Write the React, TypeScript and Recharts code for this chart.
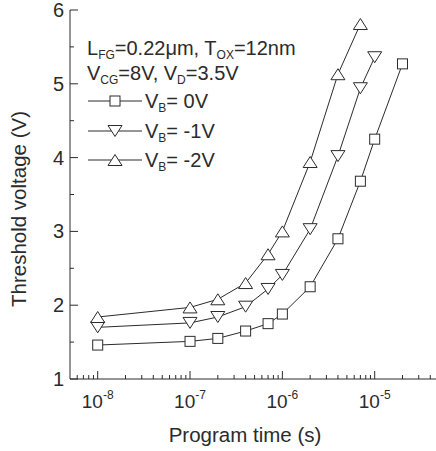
import { LineChart, Line, XAxis, YAxis, Legend } from 'recharts'

// program time (s) and threshold voltage (V) per body bias
const timesB0 = [1e-8, 1e-7, 2e-7, 4e-7, 7e-7, 1e-6, 2e-6, 4e-6, 7e-6, 1e-5, 2e-5]
const vthB0 = [1.46, 1.51, 1.55, 1.65, 1.75, 1.88, 2.25, 2.9, 3.68, 4.25, 5.27]

const timesB1 = [1e-8, 1e-7, 2e-7, 4e-7, 7e-7, 1e-6, 2e-6, 4e-6, 7e-6, 1e-5]
const vthB1 = [1.7, 1.76, 1.84, 1.98, 2.22, 2.41, 3.03, 4.02, 4.94, 5.36]

const timesB2 = [1e-8, 1e-7, 2e-7, 4e-7, 7e-7, 1e-6, 2e-6, 4e-6, 7e-6]
const vthB2 = [1.84, 1.97, 2.08, 2.3, 2.69, 3.0, 3.94, 5.13, 5.81]

const seriesNames = ['0V', '-1V', '-2V']
const markerKinds = ['square', 'down', 'up']

const decadeExps = [-8, -7, -6, -5]
const yTicks = [1, 1.5, 2, 2.5, 3, 3.5, 4, 4.5, 5, 5.5, 6]

const xDomain = [Math.pow(10, -8.3), Math.pow(10, -4.336)]

// log minor + major ticks inside the domain
const xTicks: number[] = []
for (let e = -9; e <= -5; e++) {
  for (let m = 1; m <= 9; m++) {
    const v = m * Math.pow(10, e)
    if (v >= xDomain[0] && v <= xDomain[1]) xTicks.push(v)
  }
}

const toRows = (t: number[], v: number[]) => t.map((time, i) => ({ time, vth: v[i] }))
const seriesData = [toRows(timesB0, vthB0), toRows(timesB1, vthB1), toRows(timesB2, vthB2)]

const INK = '#2b2b2b'
const FONT = '"Liberation Sans", Arial, sans-serif'

function Marker({ kind, cx, cy }: { kind: string; cx: number; cy: number }) {
  if (kind === 'square') {
    return <rect x={cx - 5} y={cy - 5} width={10} height={10} fill="#fff" stroke={INK} strokeWidth={1} />
  }
  const h = 5.5
  const w = 7
  const pts = kind === 'down'
    ? `${cx - w},${cy - h} ${cx + w},${cy - h} ${cx},${cy + h}`
    : `${cx - w},${cy + h} ${cx + w},${cy + h} ${cx},${cy - h}`
  return <polygon points={pts} fill="#fff" stroke={INK} strokeWidth={1} />
}

function XTick(props: any) {
  const { x, y, payload } = props
  const v = payload.value
  const exp = Math.round(Math.log10(v))
  const isMajor = Math.abs(v - Math.pow(10, exp)) < v * 1e-6
  return (
    <g>
      <line x1={x} x2={x} y1={y} y2={y - (isMajor ? 8 : 4)} stroke={INK} />
      {isMajor && decadeExps.includes(exp) && (
        <text x={x} y={y + 29} textAnchor="middle" fontSize={19} fill={INK} fontFamily={FONT}>
          10
          <tspan fontSize={12} dy={-9}>{exp}</tspan>
        </text>
      )}
    </g>
  )
}

function YTick(props: any) {
  const { x, y, payload } = props
  const v = payload.value
  const isMajor = Number.isInteger(v)
  return (
    <g>
      <line x1={x} x2={x + (isMajor ? 8 : 4)} y1={y} y2={y} stroke={INK} />
      {isMajor && (
        <text x={x - 6} y={y + 7} textAnchor="end" fontSize={20} fill={INK} fontFamily={FONT}>
          {v}
        </text>
      )}
    </g>
  )
}

function LegendBox() {
  const rows = [101, 131, 160]
  return (
    <svg width={300} height={180} style={{ overflow: 'visible', display: 'block' }}>
      <g fontFamily={FONT} fill={INK} fontSize={20}>
        <text x={87} y={55}>
          L<tspan fontSize={12} dy={4}>FG</tspan>
          <tspan dy={-4}>=0.22μm, T</tspan>
          <tspan fontSize={12} dy={4}>OX</tspan>
          <tspan dy={-4}>=12nm</tspan>
        </text>
        <text x={87} y={80}>
          V<tspan fontSize={12} dy={4}>CG</tspan>
          <tspan dy={-4}>=8V, V</tspan>
          <tspan fontSize={12} dy={4}>D</tspan>
          <tspan dy={-4}>=3.5V</tspan>
        </text>
        {seriesNames.map((name, i) => (
          <g key={name}>
            <line x1={88} x2={142} y1={rows[i]} y2={rows[i]} stroke={INK} />
            <Marker kind={markerKinds[i]} cx={115} cy={rows[i]} />
            <text x={145} y={rows[i] + 7}>
              V<tspan fontSize={12} dy={4}>B</tspan>
              <tspan dy={-4}>= {name}</tspan>
            </text>
          </g>
        ))}
      </g>
    </svg>
  )
}

export default function App() {
  return (
    <div style={{ position: 'absolute', left: 0, top: 0, width: 436, height: 451, fontFamily: FONT }}>
      <LineChart width={436} height={451} margin={{ top: 10, right: 0, left: 0, bottom: 0 }}>
        <XAxis
          xAxisId="top"
          orientation="top"
          type="number"
          scale="log"
          dataKey="time"
          domain={xDomain}
          allowDataOverflow
          height={0}
          tick={false}
          tickLine={false}
          stroke={INK}
        />
        <XAxis
          type="number"
          scale="log"
          dataKey="time"
          domain={xDomain}
          allowDataOverflow
          ticks={xTicks}
          interval={0}
          height={72}
          tickSize={0}
          tickMargin={0}
          tick={<XTick />}
          stroke={INK}
          label={{
            content: () => (
              <text x={245} y={442} textAnchor="middle" fontSize={20.5} fill={INK} fontFamily={FONT}>
                Program time (s)
              </text>
            ),
          }}
        />
        <YAxis
          type="number"
          domain={[1, 6]}
          ticks={yTicks}
          interval={0}
          width={70}
          tickSize={0}
          tickMargin={0}
          tick={<YTick />}
          stroke={INK}
          label={{
            content: () => (
              <text
                x={26}
                y={209}
                transform="rotate(-90 26 209)"
                textAnchor="middle"
                fontSize={20.5}
                fill={INK}
                fontFamily={FONT}
              >
                Threshold voltage (V)
              </text>
            ),
          }}
        />
        <Legend
          layout="horizontal"
          verticalAlign="middle"
          wrapperStyle={{ position: 'absolute', left: 0, top: 0, width: 300, height: 180 }}
          content={() => <LegendBox />}
        />
        {seriesData.map((rows, i) => (
          <Line
            key={seriesNames[i]}
            data={rows}
            dataKey="vth"
            name={`VB= ${seriesNames[i]}`}
            type="linear"
            stroke={INK}
            strokeWidth={1}
            isAnimationActive={false}
            dot={(p: any) => <Marker key={`${i}-${p.index}`} kind={markerKinds[i]} cx={p.cx} cy={p.cy} />}
          />
        ))}
      </LineChart>
    </div>
  )
}
